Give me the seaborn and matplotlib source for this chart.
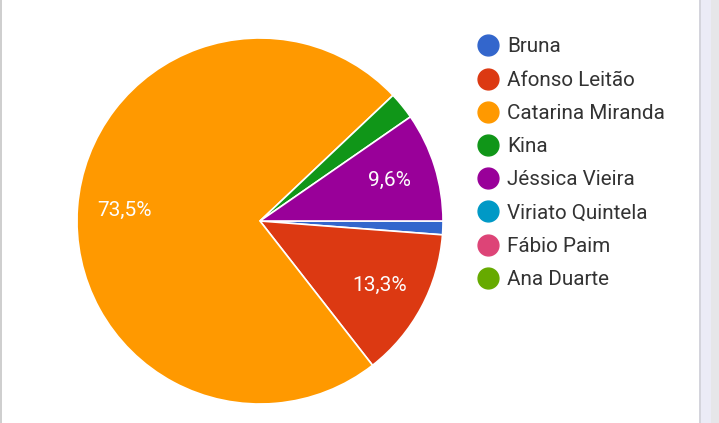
import matplotlib
matplotlib.use("Agg")
import matplotlib.pyplot as plt
import seaborn as sns
from matplotlib.lines import Line2D
from matplotlib.patches import Rectangle

sns.set_theme(style="white")
plt.rcParams['font.family'] = ['Roboto', 'DejaVu Sans']

names = ["Bruna", "Afonso Leitão", "Catarina Miranda", "Kina", "Jéssica Vieira",
         "Viriato Quintela", "Fábio Paim", "Ana Duarte"]
counts = [1, 11, 61, 2, 8, 0, 0, 0]
colors = ["#3366cc", "#dc3912", "#ff9900", "#109618", "#990099",
          "#0099c6", "#dd4477", "#66aa00"]

W, H = 719, 423
fig = plt.figure(figsize=(W / 100, H / 100), dpi=100)
fig.patch.set_facecolor("white")

cx, cy, r = 260, 221, 183
ax = fig.add_axes([(cx - r) / W, (H - cy - r) / H, 2 * r / W, 2 * r / H])

vals = [c for c in counts if c > 0]
cols = [colors[i] for i, c in enumerate(counts) if c > 0]


def fmt(p):
    return ("%.1f%%" % p).replace(".", ",") if p >= 5 else ""


wedges, texts, autotexts = ax.pie(
    vals, colors=cols, startangle=0, counterclock=False, radius=1,
    autopct=fmt, pctdistance=0.74,
    wedgeprops=dict(edgecolor="white", linewidth=1.2),
    textprops=dict(color="#fdfdfd", fontsize=15))
ax.set_xlim(-1, 1)
ax.set_ylim(-1, 1)
ax.set_aspect("equal")
ax.axis("off")

# legend
handles = [Line2D([0], [0], marker="o", color="none", markerfacecolor=c,
                  markeredgecolor=c, markersize=15) for c in colors]
leg = fig.legend(handles, names, loc="upper left",
                 bbox_to_anchor=(474 / W, 1 - 37.5 / H), frameon=False,
                 fontsize=14.85, labelspacing=0.69, handletextpad=0.25,
                 handlelength=1.35, borderaxespad=0, borderpad=0)
for t in leg.get_texts():
    t.set_color("#333333")

# page borders
fig.add_artist(Rectangle((0, 0), 1.5 / W, 1, transform=fig.transFigure,
                         facecolor="#cfcfcf", edgecolor="none"))
fig.add_artist(Rectangle((699 / W, 0), 1.5 / W, 1, transform=fig.transFigure,
                         facecolor="#d4d4dc", edgecolor="none"))
fig.add_artist(Rectangle((700.5 / W, 0), 10 / W, 1, transform=fig.transFigure,
                         facecolor="#ebebf6", edgecolor="none"))
fig.add_artist(Rectangle((710.5 / W, 0), 9 / W, 1, transform=fig.transFigure,
                         facecolor="#e6e6e9", edgecolor="none"))

fig.savefig("out.png", dpi=100, facecolor="white")
